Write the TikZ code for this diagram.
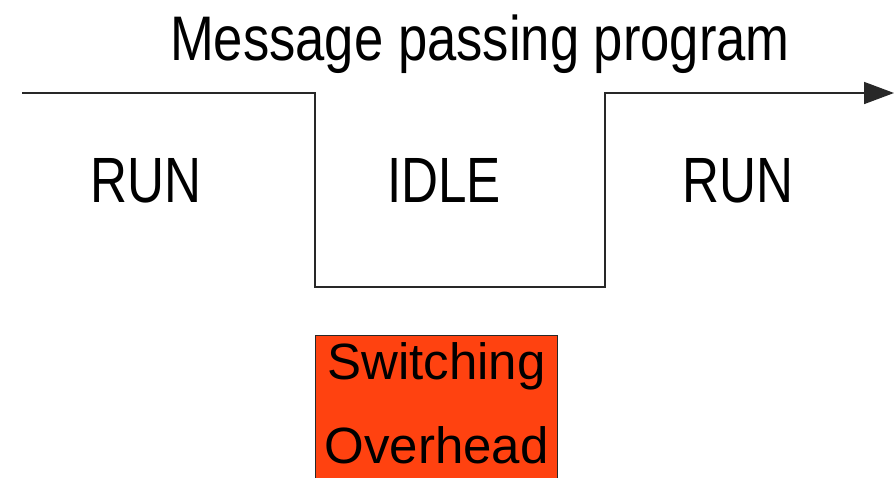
\documentclass[tikz,border=0pt]{standalone}
\usepackage{fontspec}
\setmainfont{Liberation Sans}
\newfontfamily\titlefont[FakeStretch=0.835]{Liberation Sans}
\newfontfamily\labfont[FakeStretch=0.8]{Liberation Sans}
\usetikzlibrary{arrows.meta}
\definecolor{overheadorange}{RGB}{255,66,16}
\definecolor{linegray}{RGB}{40,40,40}
\tikzset{
  statelabel/.style={font=\labfont\fontsize{64}{64}\selectfont, inner sep=0pt},
  titlelabel/.style={font=\titlefont\fontsize{63}{63}\selectfont, inner sep=0pt},
  signal/.style={draw=linegray, line width=1.6pt, -{Triangle[length=30pt,width=22pt]}},
  overheadbox/.style={draw=linegray, line width=1pt, fill=overheadorange, align=center,
    font=\fontsize{51}{84}\selectfont, minimum width=242pt, minimum height=145pt,
    inner sep=0pt, text depth=9pt}
}
\begin{document}
\begin{tikzpicture}[x=1pt,y=-1pt]
  \useasboundingbox (0,0) rectangle (894,477);
  \clip (0,0) rectangle (894,477);
  % signal corners
  \coordinate (s0) at (22,93);
  \coordinate (s1) at (315,93);
  \coordinate (s2) at (315,287);
  \coordinate (s3) at (605,287);
  \coordinate (s4) at (605,93);
  \coordinate (s5) at (894,93);
  \draw[signal] (s0) -- (s1) -- (s2) -- (s3) -- (s4) -- (s5);
  % labels
  \node[titlelabel, anchor=base] (title) at (480,60) {Message passing program};
  \node[statelabel, anchor=base] (run1) at (146,202) {RUN};
  \node[statelabel, anchor=base] (idle) at (444,202) {IDLE};
  \node[statelabel, anchor=base] (run2) at (738,202) {RUN};
  % overhead box
  \node[overheadbox, anchor=north west] (overhead) at (315,335) {Switching\\Overhead};
\end{tikzpicture}
\end{document}
